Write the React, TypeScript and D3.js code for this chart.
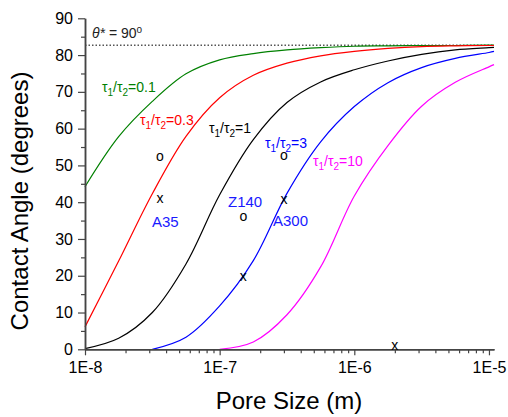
import React, { useEffect, useRef } from 'react'
import * as d3 from 'd3'

// pore size grid (m), quarter decades
const poreSizes = [1e-8, 1.778e-8, 3.162e-8, 5.623e-8, 1e-7, 1.778e-7, 3.162e-7, 5.623e-7, 1e-6, 1.778e-6, 3.162e-6, 5.623e-6, 1e-5, 1.09e-5]

// contact angle (deg) for each tau1/tau2 ratio
const ratio01 = [44.2, 57.8, 67.4, 74.9, 78.7, 80.4, 81.4, 82.0, 82.4, 82.5, 82.6, 82.6, 82.7, 82.7]
const ratio03 = [6.1, 24.0, 42.3, 57.9, 68.4, 74.5, 77.8, 79.8, 81.0, 81.8, 82.3, 82.5, 82.6, 82.6]
const ratio1 = [0.2, 3.0, 10.0, 23.2, 42.0, 57.0, 67.1, 72.7, 76.0, 78.4, 80.2, 81.4, 82.0, 82.1]
const ratio3 = [null, null, 0, 3.3, 11.8, 24.1, 42.4, 56.4, 66.0, 72.5, 76.6, 79.1, 80.7, 81.0]
const ratio10 = [null, null, null, null, 0, 2.0, 9.4, 22.4, 41.7, 55.4, 66.1, 72.6, 76.8, 77.4]

const thetaLimit = 82.7

// measured samples
const samplePores = [3.6e-8, 1.5e-7, 3e-7, 2e-6]
const sampleO = [52.3, 35.9, 52.6, null]
const sampleX = [40.8, 19.6, 40.6, 1.0]

const xTickValues = [1e-8, 1e-7, 1e-6, 1e-5]
const xTickLabels = ['1E-8', '1E-7', '1E-6', '1E-5']
const yTicks = [0, 10, 20, 30, 40, 50, 60, 70, 80, 90]

const FONT = 'Liberation Sans, Arial, sans-serif'

function App() {
    const svgRef = useRef(null)

    useEffect(() => {
        const svg = d3.select(svgRef.current)
        svg.selectAll('*').remove()

        const x = d3.scaleLog().domain([1e-8, 1.09e-5]).range([85, 494])
        const y = d3.scaleLinear().domain([0, 90]).range([349.3, 18.3])

        // curves
        const series = [
            { values: ratio01, color: '#008000' },
            { values: ratio03, color: '#ff0000' },
            { values: ratio1, color: '#000000' },
            { values: ratio3, color: '#0000ff' },
            { values: ratio10, color: '#ff00ff' },
        ]
        const line = d3.line()
            .defined(d => d[1] != null)
            .x(d => x(d[0]))
            .y(d => y(d[1]))
            .curve(d3.curveCatmullRom.alpha(0.5))

        // dotted limit
        svg.append('line')
            .attr('x1', x(1e-8)).attr('x2', x(1.09e-5))
            .attr('y1', y(thetaLimit)).attr('y2', y(thetaLimit))
            .attr('stroke', '#555').attr('stroke-width', 1.5)
            .attr('stroke-dasharray', '1.5,2')

        series.forEach(s => {
            svg.append('path')
                .datum(poreSizes.map((p, i) => [p, s.values[i]]))
                .attr('d', line)
                .attr('fill', 'none')
                .attr('stroke', s.color)
                .attr('stroke-width', 1.2)
        })

        // axes
        const xMinor = []
        ;[1e-8, 1e-7, 1e-6].forEach(d => {
            for (let k = 2; k <= 9; k++) xMinor.push(d * k)
        })
        const yMinor = yTicks.slice(0, -1).map(v => v + 5)

        const gx = svg.append('g').attr('transform', `translate(0, ${y(0)})`)
        gx.call(d3.axisBottom(x).tickValues(xMinor).tickSize(4).tickSizeOuter(0).tickFormat(() => ''))
        gx.append('g').call(d3.axisBottom(x).tickValues(xTickValues).tickSize(6).tickSizeOuter(0).tickPadding(6)
            .tickFormat((d, i) => xTickLabels[i]))

        const gy = svg.append('g').attr('transform', `translate(${x(1e-8)}, 0)`)
        gy.call(d3.axisLeft(y).tickValues(yMinor).tickSize(4).tickSizeOuter(0).tickFormat(() => ''))
        gy.append('g').call(d3.axisLeft(y).tickValues(yTicks).tickSize(7).tickSizeOuter(0).tickPadding(5))

        svg.selectAll('.domain').attr('stroke', '#444').attr('stroke-width', 1.5)
        svg.selectAll('.tick line').attr('stroke', '#444').attr('stroke-width', 1.2)
        svg.selectAll('.tick text').attr('font-size', 16).attr('font-family', FONT).attr('fill', '#000')

        // axis titles
        svg.append('text')
            .attr('x', 289).attr('y', 409)
            .attr('text-anchor', 'middle')
            .attr('font-family', FONT).attr('font-size', 24)
            .text('Pore Size (m)')
        svg.append('text')
            .attr('transform', 'translate(28, 201) rotate(-90)')
            .attr('text-anchor', 'middle')
            .attr('font-family', FONT).attr('font-size', 24)
            .text('Contact Angle (degrees)')

        // theta* label
        const th = svg.append('text').attr('x', 92).attr('y', 38)
            .attr('font-family', FONT).attr('font-size', 14).attr('fill', '#222')
        th.append('tspan').attr('font-style', 'italic').text('θ*')
        th.append('tspan').text(' = 90')
        th.append('tspan').attr('dy', -5).attr('font-size', 10).text('o')

        // tau labels
        const tauLabels = [
            { v: '0.1', color: '#008000', px: 102, py: 92 },
            { v: '0.3', color: '#ff0000', px: 140, py: 125 },
            { v: '1', color: '#000000', px: 209, py: 133 },
            { v: '3', color: '#0000ff', px: 265, py: 148 },
            { v: '10', color: '#ff00ff', px: 313, py: 166 },
        ]
        tauLabels.forEach(l => {
            const t = svg.append('text').attr('x', l.px).attr('y', l.py)
                .attr('font-family', FONT).attr('font-size', 14).attr('fill', l.color)
            t.append('tspan').text('τ')
            t.append('tspan').attr('dy', 4).attr('font-size', 10).text('1')
            t.append('tspan').attr('dy', -4).text('/τ')
            t.append('tspan').attr('dy', 4).attr('font-size', 10).text('2')
            t.append('tspan').attr('dy', -4).text('=' + l.v)
        })

        // sample names
        const names = [
            { n: 'A35', px: 152, py: 226.5 },
            { n: 'Z140', px: 228, py: 206.5 },
            { n: 'A300', px: 273, py: 225.5 },
        ]
        names.forEach(l => {
            svg.append('text').attr('x', l.px).attr('y', l.py)
                .attr('font-family', FONT).attr('font-size', 15).attr('fill', '#1a1aff')
                .text(l.n)
        })

        // sample markers
        const markers = [
            ...samplePores.map((p, i) => ({ p, v: sampleO[i], g: 'o' })),
            ...samplePores.map((p, i) => ({ p, v: sampleX[i], g: 'x' })),
        ].filter(d => d.v != null)
        svg.selectAll('.marker')
            .data(markers)
            .join('text')
            .attr('class', 'marker')
            .attr('x', d => x(d.p))
            .attr('y', d => y(d.v))
            .attr('dy', '0.3em')
            .attr('text-anchor', 'middle')
            .attr('font-family', FONT).attr('font-size', 14).attr('fill', '#000')
            .text(d => d.g)
    }, [])

    return (
        <div className='App'>
            <svg ref={svgRef} width={508} height={417}
                style={{ position: 'absolute', left: 0, top: 0, background: '#fff' }}></svg>
        </div>
    )
}

export default App
